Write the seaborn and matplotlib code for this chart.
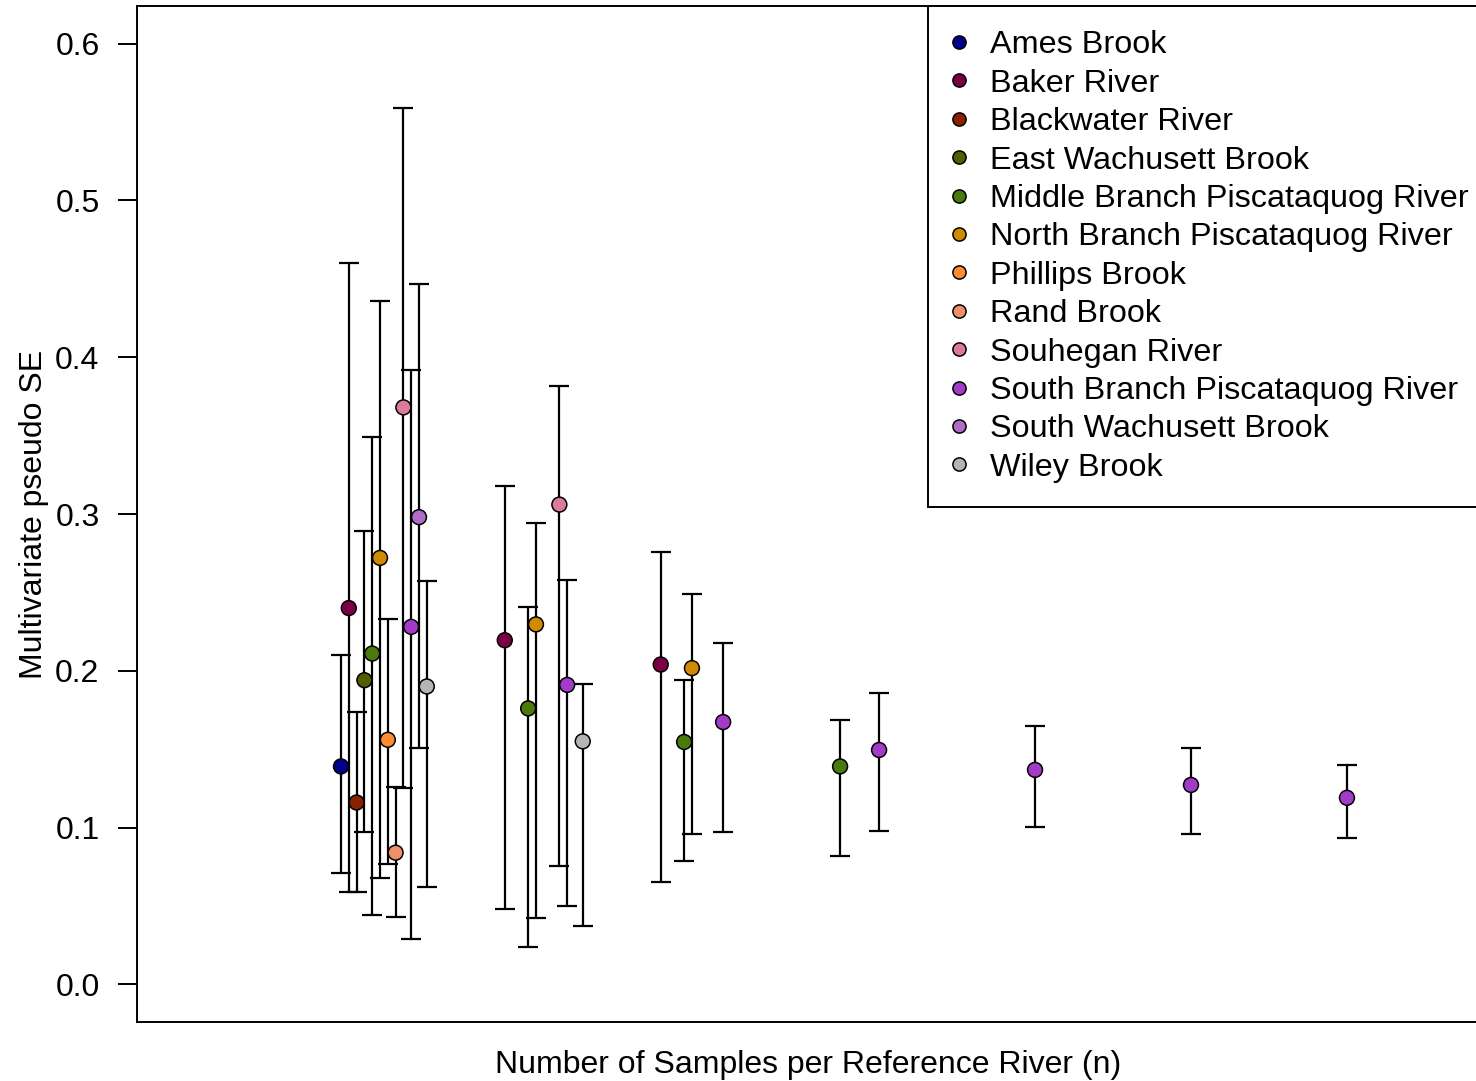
import matplotlib
matplotlib.use("Agg")
import matplotlib.pyplot as plt
from matplotlib.lines import Line2D
import seaborn as sns
import pandas as pd
import numpy as np

# Reference rivers and their plotting colours
rivers = [
    "Ames Brook", "Baker River", "Blackwater River", "East Wachusett Brook",
    "Middle Branch Piscataquog River", "North Branch Piscataquog River",
    "Phillips Brook", "Rand Brook", "Souhegan River",
    "South Branch Piscataquog River", "South Wachusett Brook", "Wiley Brook",
]
river_colors = [
    "#00008B", "#7A0045", "#8B2000", "#525E00", "#4A7A0C", "#D08A00",
    "#FF8C33", "#F0906A", "#DC7A9E", "#A23CC8", "#B06CC4", "#B5B5B5",
]

# Sample-size group (position along the x axis) for every estimate
sample_group = [1, 1, 1, 1, 1, 1, 1, 1, 1, 1, 1, 1,
                2, 2, 2, 2, 2, 2,
                3, 3, 3, 3,
                4, 4,
                5,
                6,
                7]
river_of_point = [
    "Ames Brook", "Baker River", "Blackwater River", "East Wachusett Brook",
    "Middle Branch Piscataquog River", "North Branch Piscataquog River",
    "Phillips Brook", "Rand Brook", "Souhegan River",
    "South Branch Piscataquog River", "South Wachusett Brook", "Wiley Brook",
    "Baker River", "Middle Branch Piscataquog River",
    "North Branch Piscataquog River", "Souhegan River",
    "South Branch Piscataquog River", "Wiley Brook",
    "Baker River", "Middle Branch Piscataquog River",
    "North Branch Piscataquog River", "South Branch Piscataquog River",
    "Middle Branch Piscataquog River", "South Branch Piscataquog River",
    "South Branch Piscataquog River",
    "South Branch Piscataquog River",
    "South Branch Piscataquog River",
]
pseudo_se = [0.139, 0.240, 0.116, 0.194, 0.211, 0.272, 0.156, 0.084, 0.368, 0.228, 0.298, 0.190,
             0.2195, 0.176, 0.2296, 0.306, 0.191, 0.155,
             0.204, 0.1546, 0.2017, 0.1673,
             0.139, 0.1495,
             0.1368,
             0.1272,
             0.119]
ci_low = [0.071, 0.059, 0.059, 0.097, 0.044, 0.068, 0.077, 0.043, 0.125, 0.029, 0.151, 0.062,
          0.048, 0.024, 0.0426, 0.0757, 0.050, 0.0375,
          0.065, 0.079, 0.096, 0.0973,
          0.082, 0.098,
          0.1005,
          0.096,
          0.0935]
ci_high = [0.210, 0.460, 0.174, 0.289, 0.349, 0.436, 0.233, 0.126, 0.559, 0.392, 0.447, 0.257,
           0.318, 0.2405, 0.294, 0.3817, 0.258, 0.1915,
           0.276, 0.194, 0.2487, 0.2176,
           0.1686, 0.1858,
           0.1648,
           0.1508,
           0.140]

df = pd.DataFrame({
    "group": sample_group,
    "river": river_of_point,
    "se": pseudo_se,
    "lo": ci_low,
    "hi": ci_high,
})
# dodge each river within its group so the intervals do not overlap
df["x"] = df["group"] + 0.05 * df["river"].map({r: i for i, r in enumerate(rivers)})

sns.set_style("white")
plt.rcParams["font.family"] = ["Liberation Sans", "DejaVu Sans"]
plt.rcParams["text.color"] = "black"
plt.rcParams["axes.labelcolor"] = "black"

fig = plt.figure(figsize=(14.76, 10.81), dpi=100)
# the plot region runs slightly past the right edge of the canvas
ax = fig.add_axes([136.7 / 1476, 59 / 1081, 1350 / 1476, 1016 / 1081])

ax.errorbar(df["x"], df["se"],
            yerr=[df["se"] - df["lo"], df["hi"] - df["se"]],
            fmt="none", ecolor="black", elinewidth=1.6, capsize=7.2,
            capthick=1.6, zorder=2)

palette = dict(zip(rivers, river_colors))
sns.scatterplot(data=df, x="x", y="se", hue="river", hue_order=rivers,
                palette=palette, s=115, edgecolor="black", linewidth=1.1,
                legend=False, zorder=3, ax=ax)

ax.set_xlim(-0.31, 8.346)
ax.set_ylim(-0.024, 0.624)
ax.set_xticks([])
ax.set_yticks([0.0, 0.1, 0.2, 0.3, 0.4, 0.5, 0.6])
ax.set_yticklabels(["0.0", "0.1", "0.2", "0.3", "0.4", "0.5", "0.6"])
ax.tick_params(axis="y", left=True, length=13.7, width=1.4, pad=13,
               labelsize=23, color="black", labelcolor="black")
for side in ["left", "bottom", "top", "right"]:
    ax.spines[side].set_visible(True)
    ax.spines[side].set_color("black")
    ax.spines[side].set_linewidth(1.4)

ax.set_xlabel("Number of Samples per Reference River (n)", fontsize=23,
              color="black", labelpad=20)
ax.xaxis.label.set_x(0.497)
ax.set_ylabel("Multivariate pseudo SE", fontsize=23, color="black")
ax.yaxis.set_label_coords(-0.0648, 0.5)

handles = [Line2D([0], [0], marker="o", linestyle="none", markersize=9.5,
                  markerfacecolor=c, markeredgecolor="black",
                  markeredgewidth=1.1) for c in river_colors]
leg = ax.legend(handles, rivers, loc="upper right", bbox_to_anchor=(1.0045, 1.0),
                borderaxespad=0, fontsize=23.3, frameon=True, fancybox=False,
                edgecolor="black", handlelength=0.45, handletextpad=0.72,
                borderpad=0.75, labelspacing=0.26)
leg.get_frame().set_linewidth(1.4)
leg.get_frame().set_alpha(1)
for t in leg.get_texts():
    t.set_color("black")

fig.savefig("out.png", dpi=100)
